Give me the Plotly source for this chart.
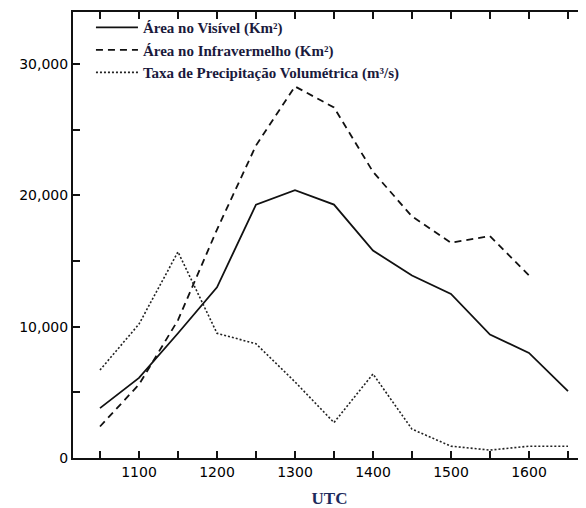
import plotly.graph_objects as go

# UTC time (hours, decimal) of each observation
times = [10.5, 11.0, 11.5, 12.0, 12.5, 13.0, 13.5, 14.0, 14.5, 15.0, 15.5, 16.0, 16.5]
area_visivel = [3800, 6100, 9500, 13000, 19300, 20400, 19300, 15800, 13900, 12500, 9400, 8000, 5100]
area_infra = [2400, 5600, 10500, 17400, 23800, 28300, 26700, 21800, 18400, 16400, 16900, 13900, None]
precip = [6700, 10200, 15700, 9500, 8700, 5800, 2700, 6400, 2200, 900, 600, 900, 900]

x_tickvals = [10.5, 11.0, 11.5, 12.0, 12.5, 13.0, 13.5, 14.0, 14.5, 15.0, 15.5, 16.0, 16.5]
x_ticktext = ["", "1100", "", "1200", "", "1300", "", "1400", "", "1500", "", "1600", ""]
y_tickvals = [0, 5000, 10000, 15000, 20000, 25000, 30000]
y_ticktext = ["0", "", "10,000", "", "20,000", "", "30,000"]

names = ["Área no Visível (Km²)", "Área no Infravermelho (Km²)",
         "Taxa de Precipitação Volumétrica (m³/s)"]

fig = go.Figure()
fig.add_trace(go.Scatter(x=times, y=area_visivel, mode="lines", name=names[0],
                         line=dict(color="#111111", width=1.8, dash="solid")))
fig.add_trace(go.Scatter(x=times, y=area_infra, mode="lines", name=names[1],
                         line=dict(color="#111111", width=1.8, dash="7px,5px")))
fig.add_trace(go.Scatter(x=times, y=precip, mode="lines", name=names[2],
                         line=dict(color="#222222", width=1.6, dash="2px,2px")))

tickfont = dict(family="DejaVu Sans", size=14, color="#000000")

# the page body has an 8px default margin, so the figure is shifted by 8px
fig.update_layout(
    width=578, height=500,
    margin=dict(l=65, r=0, t=4, b=50),
    paper_bgcolor="white", plot_bgcolor="white",
    showlegend=True,
    legend=dict(x=0.035, y=1.002, xanchor="left", yanchor="top",
                bgcolor="rgba(0,0,0,0)", itemwidth=42, tracegroupgap=0,
                font=dict(family="Liberation Serif", size=15, color="#1a1a3c", weight="bold")),
    xaxis=dict(range=[10.154, 16.731], tickmode="array", tickvals=x_tickvals,
               ticktext=x_ticktext, ticks="inside", ticklen=7, tickwidth=2,
               tickcolor="#111111", showline=True, linecolor="#111111", linewidth=2,
               mirror="ticks", showgrid=False, zeroline=False, tickfont=tickfont,
               automargin=False,
               title=dict(text="UTC", standoff=16,
                          font=dict(family="Liberation Serif", size=17,
                                    color="#1c2a5c", weight="bold"))),
    yaxis=dict(range=[0, 33970], tickmode="array", tickvals=y_tickvals,
               ticktext=y_ticktext, ticks="inside", ticklen=7, tickwidth=2,
               tickcolor="#111111", showline=True, linecolor="#111111", linewidth=2,
               mirror=False, showgrid=False, zeroline=False, tickfont=tickfont,
               automargin=False),
)

fig.write_html("out.html")
